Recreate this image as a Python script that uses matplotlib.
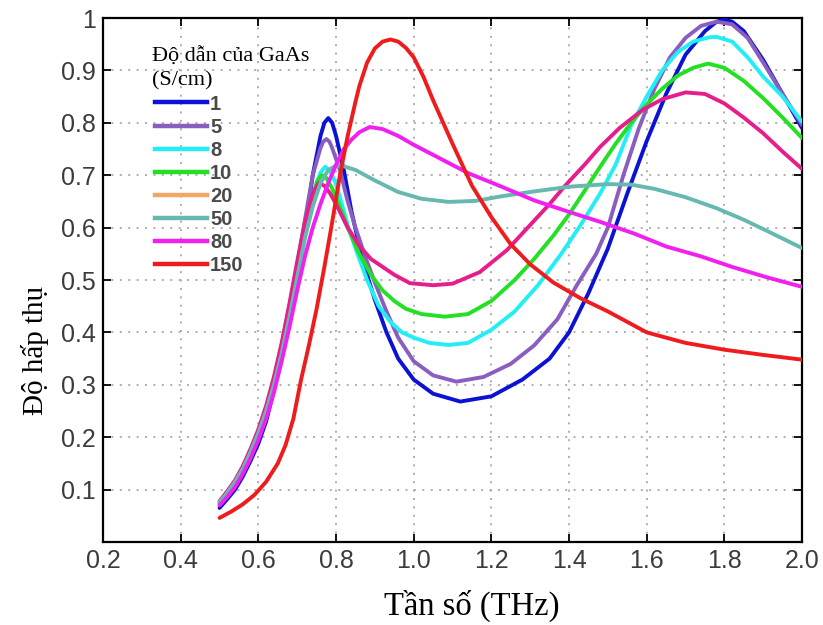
import matplotlib
matplotlib.use("Agg")
import matplotlib.pyplot as plt
from matplotlib.lines import Line2D

# Absorption spectra for several GaAs conductivities (S/cm)
conductivity = ["1", "5", "8", "10", "20", "50", "80", "150"]

x_s1 = [0.50, 0.52, 0.54, 0.56, 0.58, 0.60, 0.62, 0.64, 0.66, 0.68, 0.70, 0.72, 0.74, 0.76, 0.77,
        0.78, 0.79, 0.80, 0.82, 0.84, 0.86, 0.88, 0.90, 0.93, 0.96, 1.00, 1.05, 1.12, 1.20, 1.28,
        1.35, 1.40, 1.45, 1.50, 1.55, 1.60, 1.65, 1.70, 1.75, 1.78, 1.80, 1.82, 1.85, 1.90, 1.95,
        2.00]
y_s1 = [0.065, 0.082, 0.100, 0.125, 0.155, 0.188, 0.230, 0.290, 0.355, 0.425, 0.495, 0.595, 0.700,
        0.775, 0.800, 0.809, 0.800, 0.775, 0.710, 0.630, 0.565, 0.510, 0.462, 0.400, 0.350, 0.310,
        0.283, 0.268, 0.278, 0.310, 0.350, 0.400, 0.475, 0.560, 0.665, 0.765, 0.855, 0.930, 0.975,
        0.993, 0.997, 0.993, 0.975, 0.920, 0.855, 0.790]

x_s5 = [0.50, 0.52, 0.54, 0.56, 0.58, 0.60, 0.62, 0.64, 0.66, 0.68, 0.70, 0.72, 0.74, 0.76, 0.767,
        0.775, 0.783, 0.79, 0.81, 0.83, 0.85, 0.875, 0.90, 0.93, 0.96, 1.00, 1.05, 1.11, 1.18, 1.25,
        1.31, 1.37, 1.42, 1.47, 1.50, 1.54, 1.58, 1.62, 1.66, 1.70, 1.74, 1.78, 1.82, 1.86, 1.90,
        1.95, 2.00]
y_s5 = [0.075, 0.093, 0.113, 0.140, 0.172, 0.210, 0.255, 0.310, 0.375, 0.450, 0.530, 0.615, 0.700,
        0.752, 0.764, 0.769, 0.764, 0.752, 0.710, 0.650, 0.600, 0.545, 0.495, 0.440, 0.390, 0.345,
        0.318, 0.306, 0.315, 0.340, 0.375, 0.425, 0.490, 0.550, 0.600, 0.700, 0.790, 0.865, 0.925,
        0.962, 0.985, 0.993, 0.988, 0.962, 0.915, 0.855, 0.796]

x_s8 = [0.50, 0.52, 0.54, 0.56, 0.58, 0.60, 0.62, 0.64, 0.66, 0.68, 0.70, 0.72, 0.74, 0.76, 0.772,
        0.785, 0.80, 0.815, 0.83, 0.855, 0.88, 0.91, 0.94, 0.97, 1.00, 1.04, 1.09, 1.14, 1.20, 1.26,
        1.32, 1.38, 1.43, 1.48, 1.52, 1.56, 1.60, 1.64, 1.68, 1.72, 1.76, 1.78, 1.82, 1.86, 1.90,
        1.95, 2.00]
y_s8 = [0.072, 0.090, 0.110, 0.135, 0.165, 0.200, 0.240, 0.290, 0.350, 0.420, 0.500, 0.585, 0.660,
        0.705, 0.716, 0.708, 0.683, 0.645, 0.605, 0.550, 0.500, 0.450, 0.420, 0.400, 0.390, 0.380,
        0.376, 0.380, 0.405, 0.440, 0.490, 0.550, 0.605, 0.665, 0.720, 0.795, 0.850, 0.900, 0.935,
        0.955, 0.963, 0.964, 0.955, 0.925, 0.888, 0.850, 0.802]

x_s10 = [0.50, 0.52, 0.54, 0.56, 0.58, 0.60, 0.62, 0.64, 0.66, 0.68, 0.70, 0.72, 0.74, 0.752, 0.763,
         0.775, 0.79, 0.81, 0.83, 0.86, 0.89, 0.92, 0.95, 0.98, 1.02, 1.08, 1.14, 1.20, 1.26, 1.31,
         1.36, 1.40, 1.44, 1.48, 1.52, 1.56, 1.60, 1.64, 1.68, 1.72, 1.758, 1.80, 1.85, 1.90, 1.95,
         2.00]
y_s10 = [0.074, 0.092, 0.112, 0.138, 0.170, 0.206, 0.250, 0.300, 0.360, 0.430, 0.510, 0.590, 0.660,
         0.690, 0.700, 0.695, 0.675, 0.640, 0.600, 0.550, 0.510, 0.480, 0.460, 0.445, 0.435, 0.430,
         0.435, 0.460, 0.500, 0.540, 0.585, 0.625, 0.670, 0.716, 0.760, 0.800, 0.835, 0.865, 0.890,
         0.905, 0.913, 0.905, 0.880, 0.847, 0.810, 0.771]

x_s20 = [0.50, 0.52, 0.54, 0.56, 0.58, 0.60, 0.62, 0.64, 0.66, 0.68, 0.70, 0.72, 0.74, 0.755, 0.77,
         0.785, 0.80, 0.83, 0.86, 0.89, 0.92, 0.95, 0.99, 1.05, 1.10, 1.17, 1.24, 1.30, 1.35, 1.39,
         1.44, 1.48, 1.53, 1.59, 1.64, 1.70, 1.75, 1.80, 1.85, 1.90, 1.95, 2.00]
y_s20 = [0.078, 0.097, 0.118, 0.145, 0.178, 0.215, 0.260, 0.315, 0.380, 0.455, 0.535, 0.610, 0.665,
         0.685, 0.680, 0.665, 0.645, 0.600, 0.565, 0.540, 0.525, 0.510, 0.494, 0.490, 0.493, 0.515,
         0.557, 0.605, 0.645, 0.680, 0.720, 0.754, 0.790, 0.825, 0.845, 0.858, 0.855, 0.837, 0.810,
         0.780, 0.745, 0.712]

x_s50 = [0.50, 0.52, 0.54, 0.56, 0.58, 0.60, 0.62, 0.64, 0.66, 0.68, 0.70, 0.72, 0.74, 0.76, 0.78,
         0.80, 0.82, 0.85, 0.90, 0.96, 1.02, 1.09, 1.16, 1.22, 1.30, 1.40, 1.50, 1.56, 1.62, 1.70,
         1.78, 1.85, 1.92, 2.00]
y_s50 = [0.076, 0.094, 0.115, 0.140, 0.172, 0.208, 0.250, 0.300, 0.360, 0.430, 0.505, 0.580, 0.640,
         0.685, 0.710, 0.718, 0.717, 0.710, 0.690, 0.668, 0.655, 0.649, 0.651, 0.659, 0.668, 0.678,
         0.683, 0.682, 0.674, 0.658, 0.637, 0.615, 0.590, 0.561]

x_s80 = [0.50, 0.52, 0.54, 0.56, 0.58, 0.60, 0.62, 0.64, 0.66, 0.68, 0.70, 0.72, 0.74, 0.76, 0.78,
         0.80, 0.82, 0.84, 0.86, 0.887, 0.92, 0.96, 1.00, 1.06, 1.14, 1.22, 1.31, 1.40, 1.48, 1.57,
         1.65, 1.74, 1.82, 1.91, 2.00]
y_s80 = [0.070, 0.086, 0.105, 0.130, 0.160, 0.195, 0.235, 0.285, 0.345, 0.410, 0.480, 0.545, 0.600,
         0.645, 0.685, 0.720, 0.750, 0.768, 0.782, 0.792, 0.788, 0.775, 0.758, 0.735, 0.704, 0.680,
         0.652, 0.630, 0.611, 0.588, 0.564, 0.545, 0.525, 0.505, 0.487]

x_s150 = [0.50, 0.53, 0.56, 0.59, 0.62, 0.65, 0.67, 0.69, 0.71, 0.73, 0.75, 0.77, 0.79, 0.81, 0.83,
          0.85, 0.86, 0.88, 0.90, 0.92, 0.94, 0.96, 0.98, 1.00, 1.025, 1.05, 1.10, 1.15, 1.20, 1.25,
          1.30, 1.36, 1.43, 1.50, 1.60, 1.70, 1.80, 1.90, 2.00]
y_s150 = [0.046, 0.058, 0.072, 0.090, 0.115, 0.150, 0.185, 0.235, 0.310, 0.375, 0.445, 0.525, 0.610,
          0.700, 0.775, 0.840, 0.870, 0.915, 0.942, 0.955, 0.959, 0.955, 0.943, 0.925, 0.888, 0.843,
          0.760, 0.680, 0.620, 0.568, 0.530, 0.495, 0.465, 0.440, 0.400, 0.380, 0.367, 0.357, 0.348]

series_x = [x_s1, x_s5, x_s8, x_s10, x_s20, x_s50, x_s80, x_s150]
series_y = [y_s1, y_s5, y_s8, y_s10, y_s20, y_s50, y_s80, y_s150]

# colours of the drawn curves and of the legend swatches
line_colors = ["#0b12d4", "#8a5ec0", "#22eef5", "#22e022", "#e61e8c", "#66b8b0", "#f020f0", "#ee1c1c"]
legend_colors = ["#0b12d4", "#8a5ec0", "#22eef5", "#22e022", "#f0a868", "#66b8b0", "#f020f0", "#ee1c1c"]

x_ticks = [0.2, 0.4, 0.6, 0.8, 1.0, 1.2, 1.4, 1.6, 1.8, 2.0]
x_tick_labels = ["0.2", "0.4", "0.6", "0.8", "1.0", "1.2", "1.4", "1.6", "1.8", "2.0"]
y_ticks = [0.1, 0.2, 0.3, 0.4, 0.5, 0.6, 0.7, 0.8, 0.9, 1.0]
y_tick_labels = ["0.1", "0.2", "0.3", "0.4", "0.5", "0.6", "0.7", "0.8", "0.9", "1"]

fig = plt.figure(figsize=(8.23, 6.25), dpi=100)
ax = fig.add_axes([0.1252, 0.1328, 0.8493, 0.8384])

for xs, ys, c in zip(series_x, series_y, line_colors):
    ax.plot(xs, ys, color=c, lw=2.8, solid_capstyle="round", solid_joinstyle="round", zorder=3)

ax.set_xlim(0.2, 2.0)
ax.set_ylim(0.0, 1.0)
ax.set_xticks(x_ticks)
ax.set_xticklabels(x_tick_labels)
ax.set_yticks(y_ticks)
ax.set_yticklabels(y_tick_labels)

ax.grid(True, color="#9a9a9a", linestyle=(0, (1.3, 4.2)), linewidth=1.1)
ax.tick_params(direction="in", length=6, width=1.3, top=True, right=True,
               labelsize=18, labelcolor="#3c3c3c", pad=5)
for lbl in ax.get_xticklabels() + ax.get_yticklabels():
    lbl.set_fontfamily("Liberation Sans")
for sp in ax.spines.values():
    sp.set_linewidth(1.6)
    sp.set_color("black")

serif = ["Liberation Serif", "DejaVu Serif"]
ax.set_xlabel("Tần số (THz)", fontsize=23.5, family=serif)
ax.xaxis.label.set_va("center")
ax.xaxis.set_label_coords(0.527, -0.121)
ax.set_ylabel("Độ hấp thụ", fontsize=21, family=serif)
ax.yaxis.label.set_va("center")
ax.yaxis.set_label_coords(-0.097, 0.366)

# legend: title as text, swatches in the legend's own colours
ax.text(0.070, 0.943, "Độ dẫn của GaAs\n(S/cm)", transform=ax.transAxes, ha="left", va="top",
        fontsize=16, family=serif, linespacing=1.3, zorder=5)
handles = [Line2D([], [], color=c, lw=3.2) for c in legend_colors]
leg = ax.legend(handles, conductivity, loc="upper left", bbox_to_anchor=(0.074, 0.854),
                frameon=False, borderpad=0, borderaxespad=0, handlelength=2.6,
                handletextpad=0.15, labelspacing=0.205,
                prop={"family": "Liberation Sans", "size": 14.5, "weight": "bold"})
for t in leg.get_texts():
    t.set_color("#4a4a4a")

fig.savefig("out.png", dpi=100)
